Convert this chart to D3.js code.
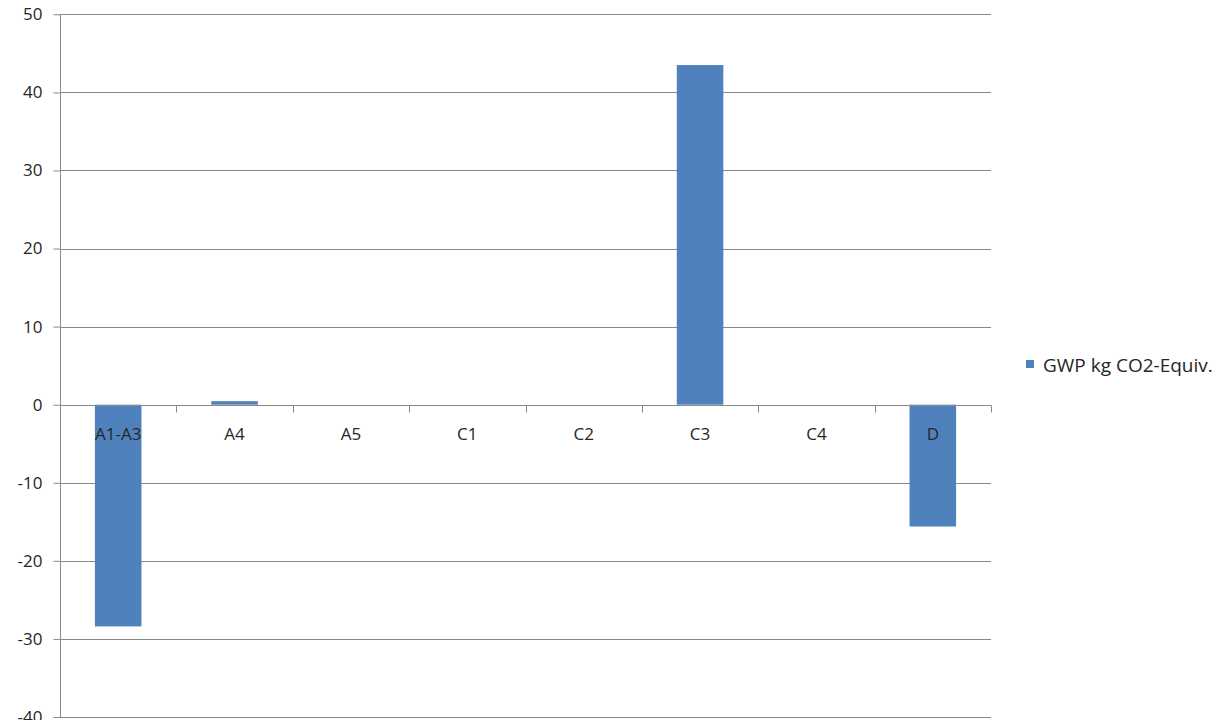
<!DOCTYPE html>
<html>
<head>
  <meta charset="utf-8">
  <title>GWP bar chart</title>
  <script src="https://cdn.jsdelivr.net/npm/d3@7"></script>
  <style>
    body { margin: 0; background: #ffffff; }
    text { font-family: "Open Sans", "DejaVu Sans", sans-serif; fill: #262626; }
  </style>
</head>
<body>
  <svg width="1217" height="720" id="mainsvg"></svg>
  <script>
    // data
    const categories = ['A1-A3', 'A4', 'A5', 'C1', 'C2', 'C3', 'C4', 'D'];
    const gwpValues = [-28.4, 0.45, 0, 0, 0, 43.5, 0, -15.6];
    const yTicks = [-40, -30, -20, -10, 0, 10, 20, 30, 40, 50];
    const seriesName = 'GWP kg CO2-Equiv.';

    const svg = d3.select('#mainsvg');
    const plotLeft = 60, plotRight = 991, plotTop = 14.3, plotBottom = 717;
    const barColor = '#4f81bd';
    const lineColor = '#8a8a8a';
    const textColor = '#262626';

    const data = categories.map((c, i) => ({ cat: c, value: gwpValues[i] }));

    const yScale = d3.scaleLinear().domain([-40, 50]).range([plotBottom, plotTop]);
    const xScale = d3.scaleBand().domain(categories).range([plotLeft, plotRight])
      .paddingInner(0.6).paddingOuter(0.3);
    // category boundaries for the small tick marks
    const xEdge = d3.scaleLinear().domain([0, categories.length]).range([plotLeft, plotRight]);

    // gridlines
    svg.append('g').selectAll('line').data(yTicks).join('line')
      .attr('x1', plotLeft).attr('x2', plotRight)
      .attr('y1', d => Math.round(yScale(d)) + 0.5)
      .attr('y2', d => Math.round(yScale(d)) + 0.5)
      .attr('stroke', lineColor).attr('stroke-width', 1);

    // y axis (plain hyphen for negatives, like the original)
    const yAxis = d3.axisLeft(yScale).tickValues(yTicks).tickSize(7).tickPadding(11)
      .tickFormat(d => String(d));
    const yG = svg.append('g').attr('transform', `translate(${plotLeft + 0.5},0)`).call(yAxis);
    yG.select('.domain').attr('stroke', lineColor).attr('d', `M0,${plotTop}V${plotBottom}`);
    yG.selectAll('.tick line').attr('stroke', lineColor);
    yG.selectAll('text').attr('font-size', '17px').attr('fill', textColor);

    // bars
    svg.append('g').selectAll('rect').data(data).join('rect')
      .attr('x', d => xScale(d.cat))
      .attr('width', xScale.bandwidth())
      .attr('y', d => yScale(Math.max(0, d.value)))
      .attr('height', d => Math.abs(yScale(d.value) - yScale(0)))
      .attr('fill', barColor);

    // zero line with ticks at category edges
    const y0 = Math.round(yScale(0)) + 0.5;
    svg.append('line').attr('x1', plotLeft).attr('x2', plotRight).attr('y1', y0).attr('y2', y0)
      .attr('stroke', lineColor);
    svg.append('g').selectAll('line').data(d3.range(1, categories.length + 1)).join('line')
      .attr('x1', d => Math.round(xEdge(d)) + 0.5).attr('x2', d => Math.round(xEdge(d)) + 0.5)
      .attr('y1', y0).attr('y2', y0 + 7)
      .attr('stroke', lineColor);

    // category labels
    const xAxis = d3.axisBottom(xScale).tickSize(0).tickPadding(23);
    const xG = svg.append('g').attr('transform', `translate(0,${yScale(0)})`).call(xAxis);
    xG.select('.domain').remove();
    xG.selectAll('text').attr('font-size', '17px').attr('fill', textColor);

    // legend
    const legend = svg.append('g').attr('transform', 'translate(1026,360)');
    legend.append('rect').attr('width', 8).attr('height', 8).attr('fill', barColor);
    legend.append('text').attr('x', 17).attr('y', 12).attr('font-size', '19px')
      .attr('fill', textColor).text(seriesName);
  </script>
</body>
</html>
